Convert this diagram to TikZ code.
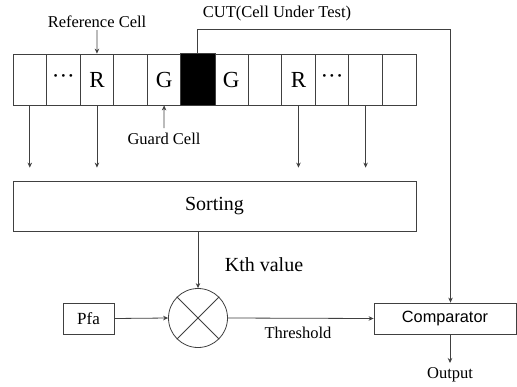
\documentclass[tikz,border=0pt]{standalone}
\usepackage{fontspec}
\setmainfont{Liberation Serif}
\newfontfamily\arialf{Liberation Sans}
\usetikzlibrary{arrows.meta,calc}
\begin{document}
\begin{tikzpicture}[x=1pt,y=-1pt,
  ln/.style={line width=0.8pt,draw=black!75},
  arr/.style={ln,-{Stealth[length=5pt,width=4.5pt]}},
  cellbox/.style={ln,minimum width=33.6pt,minimum height=51pt,inner sep=0pt,anchor=center},
  boxn/.style={ln,inner sep=0pt,anchor=center},
  lbl/.style={inner sep=0pt,anchor=center,font=\fontsize{16.5pt}{18pt}\selectfont}
]
\useasboundingbox[fill=white] (0,0) rectangle (517,386);
% cells
\foreach \i/\t in {1/{},2/{···},3/R,4/{},5/G,6/{},7/G,8/{},9/R,10/{···},11/{},12/{}}{
  \node[cellbox,font=\fontsize{23pt}{25pt}\selectfont] (c\i) at ({13+33.583*(\i-0.5)},79.5) {\t};
}
\fill[black] (c6.south west) rectangle (c6.north east);
\draw[ln] (c6.south west) rectangle (c6.north east);
% labels top
\node[lbl] (reflbl) at (97,22) {Reference Cell};
\coordinate (refend) at (97,30);
\draw[arr] (refend) -- (c3.north);
\node[lbl] (cutlbl) at (277,14) {CUT(Cell Under Test)};
\node[lbl] (guardlbl) at (164,139) {Guard Cell};
\coordinate (guardend) at (164,128);
\draw[arr] (guardend) -- (c5.south);
% sorting
\node[boxn,minimum width=403pt,minimum height=50pt,font=\fontsize{20pt}{22pt}\selectfont] (sort) at (214.5,206) {Sorting};
\foreach \i in {1,3,9,11}{
  \draw[arr,shorten >=13pt] (c\i.south) -- (c\i.south |- sort.north);
}
% multiplier
\node[ln,circle,minimum size=59pt,inner sep=0pt] (mult) at (198,318) {};
\draw[ln] (mult.45) -- (mult.225) (mult.135) -- (mult.315);
\draw[arr] (sort.south -| mult.north) -- (mult.north);
\node[lbl,font=\fontsize{20pt}{22pt}\selectfont] (kth) at (264,265) {Kth value};
% pfa
\node[boxn,minimum width=51pt,minimum height=31pt,font=\fontsize{17pt}{19pt}\selectfont] (pfa) at (88.5,318.5) {Pfa};
\draw[arr] (pfa.east) -- (mult.west);
% comparator
\node[boxn,minimum width=142pt,minimum height=31pt,font=\arialf\fontsize{16.3pt}{18pt}\selectfont] (cmp) at (445,318.5) {Comparator};
\draw[arr] (mult.east) -- (cmp.west);
\node[lbl] (thr) at (298,333) {Threshold};
% CUT line
\coordinate (cutcorner) at (450.5,29);
\draw[arr] (c6.north) |- (cutcorner) -- (cutcorner |- cmp.north);
% output
\node[lbl] (outp) at (450,375) {Output};
\coordinate (outtop) at (450,334);
\draw[arr] (outtop) -- (450,363);
\end{tikzpicture}
\end{document}
